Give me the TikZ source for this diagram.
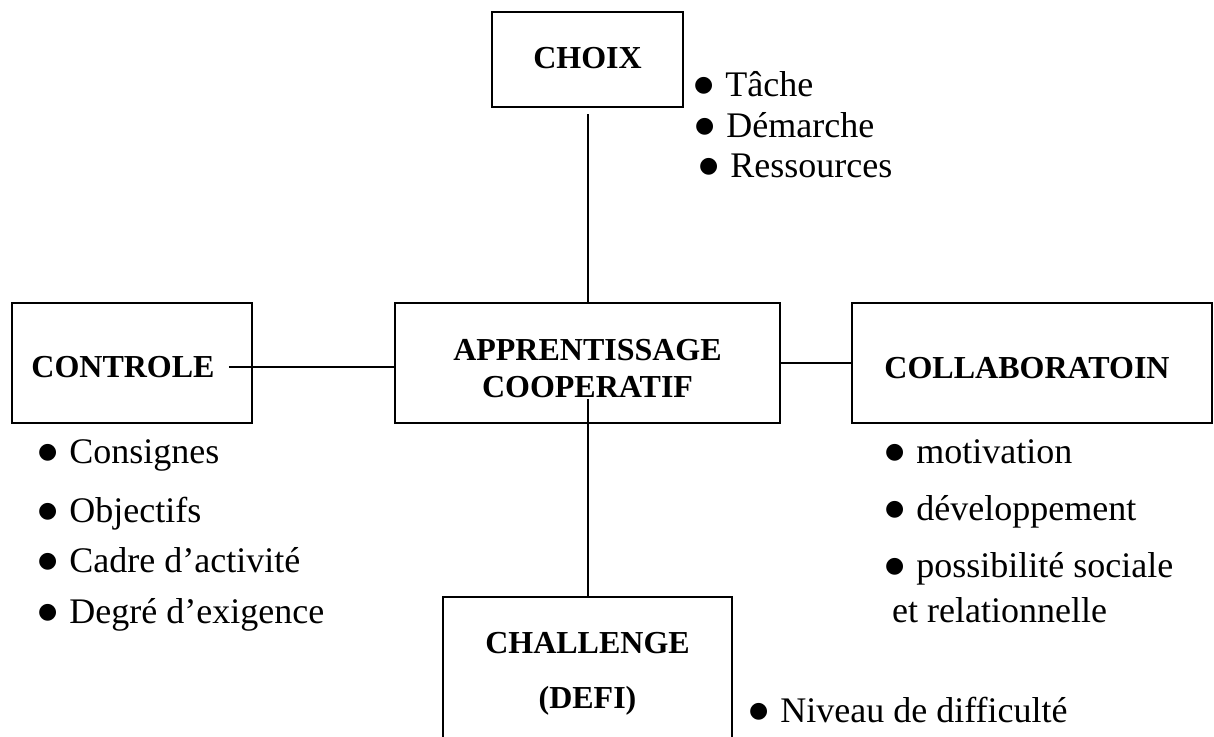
\documentclass[tikz,border=0pt]{standalone}
\usepackage{fontspec}
\setmainfont{Liberation Serif}
\newfontfamily\symfont{DejaVu Sans}
% round list bullet
\newcommand\blt{{\symfont\fontsize{22}{22}\selectfont\raisebox{4.5pt}{●}}\hspace{12pt}}
\begin{document}
\begin{tikzpicture}[x=1pt,y=-1pt,
  box/.style={draw, line width=2pt, rectangle, inner sep=0pt},
  head/.style={font=\fontsize{32}{37}\selectfont\bfseries, inner sep=0pt, anchor=base},
  item/.style={font=\fontsize{36}{40}\selectfont, inner sep=0pt, anchor=base west},
  link/.style={line width=2pt}
]
\clip (0,0) rectangle (1214,736);

% boxes
\node[box, minimum width=191pt, minimum height=95pt]  (choix)     at (587.5,59.5) {};
\node[box, minimum width=240pt, minimum height=120pt] (controle)  at (132,363) {};
\node[box, minimum width=385pt, minimum height=120pt] (app)       at (587.5,363) {};
\node[box, minimum width=360pt, minimum height=120pt] (collab)    at (1032,363) {};
\node[box, minimum width=289pt, minimum height=200pt] (challenge) at (587.5,697) {};

% box titles
\node[head] (choixT)    at (587.5,68)  {CHOIX};
\node[head] (controleT) at (123,377)   {CONTROLE};
\node[head] (appT1)     at (587.5,360) {APPRENTISSAGE};
\node[head] (appT2)     at (587.5,397) {COOPERATIF};
\node[head] (collabT)   at (1027,378)  {COLLABORATOIN};
\node[head] (chalT1)    at (587.5,653) {CHALLENGE};
\node[head] (chalT2)    at (587.5,708) {(DEFI)};

% connectors
\coordinate (appdrop) at (587.5,399);
\draw[link] ([yshift=-6pt]choix.south) -- (app.north);
\draw[link] ([xshift=14pt]controleT.east) -- (controleT.east -| app.west);
\draw[link] (app.east |- collab.west) -- (collab.west);
\draw[link] (appdrop) -- (challenge.north);

% lists
\node[item] (tache)      at (694,96)  {\blt Tâche};
\node[item] (demarche)   at (695,137) {\blt Démarche};
\node[item] (ressources) at (699,177) {\blt Ressources};

\node[item] (consignes)  at (38,463) {\blt Consignes};
\node[item] (objectifs)  at (38,522) {\blt Objectifs};
\node[item] (cadre)      at (38,572) {\blt Cadre d’activité};
\node[item] (degre)      at (38,623) {\blt Degré d’exigence};

\node[item] (motivation) at (885,463) {\blt motivation};
\node[item] (devel)      at (885,520) {\blt développement};
\node[item] (possib)     at (885,577) {\blt possibilité sociale};
\node[item] (relation)   at (892,622) {et relationnelle};

\node[item] (niveau)     at (749,722) {\blt Niveau de difficulté};
\end{tikzpicture}
\end{document}
